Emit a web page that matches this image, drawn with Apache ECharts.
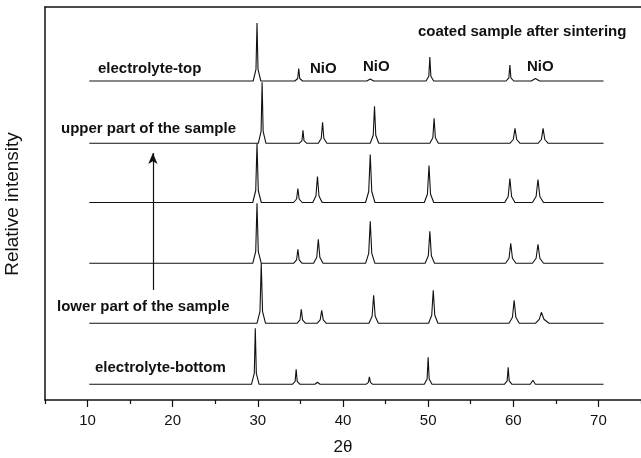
<!DOCTYPE html>
<html>
<head>
<meta charset="utf-8">
<script src="https://cdn.jsdelivr.net/npm/echarts@6/dist/echarts.min.js"></script>
<style>
  html, body { margin: 0; padding: 0; background: #fff; }
  #chart { width: 641px; height: 458px; }
</style>
</head>
<body>
<div id="chart"></div>
<script>
// 2θ tick labels
const majorTicks = [10, 20, 30, 40, 50, 60, 70]
const minorTicks = [5, 15, 25, 35, 45, 55, 65, 75]

// XRD patterns, [2θ, intensity (a.u.)]
const electrolyteTop = [
  [10.2, 0], [29.45, 0], [29.78, 11.6], [29.9, 58], [30.02, 11.6], [30.35, 0],
  [34.35, 0], [34.68, 2.5], [34.8, 12.5], [34.92, 2.5], [35.25, 0],
  [42.8, 0], [43.2, 2], [43.6, 0],
  [49.75, 0], [50.08, 4.8], [50.2, 24], [50.32, 4.8], [50.65, 0],
  [59.15, 0], [59.48, 3.2], [59.6, 16], [59.72, 3.2], [60.05, 0],
  [62.1, 0], [62.6, 2.5], [63.1, 0], [70.6, 0]
]
const upperPart = [
  [10.2, 0], [30.05, 0], [30.38, 12], [30.5, 61], [30.62, 12], [30.95, 0],
  [34.85, 0], [35.18, 2.6], [35.3, 13], [35.42, 2.6], [35.75, 0],
  [37.1, 0], [37.45, 5], [37.6, 21], [37.75, 5], [38.1, 0],
  [43.2, 0], [43.55, 8], [43.7, 37], [43.85, 8], [44.2, 0],
  [50.2, 0], [50.55, 5.5], [50.7, 25], [50.85, 5.5], [51.2, 0],
  [59.6, 0], [60.0, 3.8], [60.2, 15], [60.4, 3.8], [60.8, 0],
  [62.9, 0], [63.3, 3.8], [63.5, 15], [63.7, 3.8], [64.1, 0], [70.6, 0]
]
const middleUpper = [
  [10.2, 0], [29.4, 0], [29.75, 12], [29.9, 59], [30.05, 12], [30.4, 0],
  [34.2, 0], [34.55, 3.5], [34.7, 14], [34.85, 3.5], [35.2, 0],
  [36.45, 0], [36.82, 6.5], [37.0, 26], [37.18, 6.5], [37.55, 0],
  [42.65, 0], [43.02, 11], [43.2, 48], [43.38, 11], [43.75, 0],
  [49.55, 0], [49.92, 8.5], [50.1, 37], [50.28, 8.5], [50.65, 0],
  [59.0, 0], [59.4, 6], [59.6, 24], [59.8, 6], [60.2, 0],
  [62.25, 0], [62.68, 6], [62.9, 23], [63.12, 6], [63.55, 0], [70.6, 0]
]
const middleLower = [
  [10.2, 0], [29.4, 0], [29.75, 12], [29.9, 60], [30.05, 12], [30.4, 0],
  [34.2, 0], [34.55, 3.5], [34.7, 14], [34.85, 3.5], [35.2, 0],
  [36.55, 0], [36.92, 6], [37.1, 24], [37.28, 6], [37.65, 0],
  [42.65, 0], [43.02, 10], [43.2, 42], [43.38, 10], [43.75, 0],
  [49.65, 0], [50.02, 7.5], [50.2, 32], [50.38, 7.5], [50.75, 0],
  [59.1, 0], [59.5, 5], [59.7, 20], [59.9, 5], [60.3, 0],
  [62.25, 0], [62.68, 5], [62.9, 19], [63.12, 5], [63.55, 0], [70.6, 0]
]
const lowerPart = [
  [10.2, 0], [29.9, 0], [30.25, 12], [30.4, 60], [30.55, 12], [30.9, 0],
  [34.6, 0], [34.95, 3.5], [35.1, 14], [35.25, 3.5], [35.6, 0],
  [36.95, 0], [37.32, 3.5], [37.5, 13], [37.68, 3.5], [38.05, 0],
  [43.05, 0], [43.42, 7], [43.6, 28], [43.78, 7], [44.15, 0],
  [50.05, 0], [50.42, 8], [50.6, 33], [50.78, 8], [51.15, 0],
  [59.5, 0], [59.9, 6], [60.1, 23], [60.3, 6], [60.7, 0],
  [62.6, 0], [63.05, 4], [63.3, 11], [63.6, 4], [64.2, 0],
  [64.8, 0], [65.0, 1], [65.2, 0], [70.6, 0]
]
const electrolyteBottom = [
  [10.2, 0], [29.25, 0], [29.58, 11], [29.7, 56], [29.82, 11], [30.15, 0],
  [34.05, 0], [34.38, 3], [34.5, 15], [34.62, 3], [34.95, 0],
  [36.7, 0], [37.0, 2], [37.3, 0],
  [42.7, 0], [42.98, 2], [43.1, 7.5], [43.22, 2], [43.5, 0],
  [49.55, 0], [49.88, 5.4], [50.0, 27], [50.12, 5.4], [50.45, 0],
  [58.95, 0], [59.28, 3.4], [59.4, 17], [59.52, 3.4], [59.85, 0],
  [62.0, 0], [62.3, 4], [62.6, 0], [70.6, 0]
]

const patterns = [electrolyteTop, upperPart, middleUpper, middleLower, lowerPart, electrolyteBottom]
// vertical stacking of the traces (baseline of each one)
const stackOffsets = [319, 256.7, 197.5, 136.7, 76.7, 15.7]

const chart = echarts.init(document.getElementById('chart'))

const boldFont = 'bold 15px "Liberation Sans", Arial, sans-serif'

const series = patterns.map((p, i) => ({
  type: 'line',
  data: p.map(d => [d[0], d[1] + stackOffsets[i]]),
  showSymbol: false,
  silent: true,
  lineStyle: { color: '#111', width: 1.1 }
}))

// arrow from lower part to upper part
series.push({
  type: 'line',
  data: [],
  silent: true,
  markLine: {
    silent: true,
    symbol: ['none', 'arrow'],
    symbolSize: [7, 11],
    label: { show: false },
    lineStyle: { color: '#111', width: 1.2, type: 'solid' },
    data: [[{ coord: [17.67, 110] }, { coord: [17.67, 247] }]]
  }
})

const labels = [
  { text: 'electrolyte-top', x: 98, y: 69 },
  { text: 'upper part of the sample', x: 61, y: 129 },
  { text: 'lower part of the sample', x: 57, y: 306.5 },
  { text: 'electrolyte-bottom', x: 95, y: 368 },
  { text: 'coated sample after sintering', x: 418, y: 32 },
  { text: 'NiO', x: 310, y: 68.5 },
  { text: 'NiO', x: 363, y: 67 },
  { text: 'NiO', x: 527, y: 67 }
]

chart.setOption({
  backgroundColor: '#fff',
  animation: false,
  grid: { left: 45, right: 0, top: 7, bottom: 58 },
  xAxis: [{
    type: 'value',
    min: 5,
    max: 75,
    axisLine: { lineStyle: { color: '#111', width: 1.5 } },
    axisTick: { customValues: majorTicks, length: 7, lineStyle: { color: '#111', width: 1.2 } },
    axisLabel: {
      customValues: majorTicks,
      margin: 13,
      color: '#111',
      fontSize: 15,
      fontFamily: '"Liberation Sans", Arial, sans-serif'
    },
    splitLine: { show: false }
  }, {
    type: 'value',
    min: 5,
    max: 75,
    position: 'bottom',
    axisLine: { show: false },
    axisTick: { customValues: minorTicks, length: 4, lineStyle: { color: '#111', width: 1.2 } },
    axisLabel: { show: false },
    splitLine: { show: false }
  }, {
    type: 'value',
    min: 5,
    max: 75,
    position: 'top',
    axisLine: { lineStyle: { color: '#111', width: 1.5 } },
    axisTick: { show: false },
    axisLabel: { show: false },
    splitLine: { show: false }
  }],
  yAxis: {
    type: 'value',
    min: 0,
    max: 393,
    axisLine: { show: true, lineStyle: { color: '#111', width: 1.5 } },
    axisTick: { show: false },
    axisLabel: { show: false },
    splitLine: { show: false }
  },
  series: series,
  graphic: labels.map(l => ({
    type: 'text',
    x: l.x,
    y: l.y,
    silent: true,
    style: { text: l.text, font: boldFont, fill: '#111', verticalAlign: 'middle' }
  })).concat([{
    type: 'text',
    x: 13,
    y: 204,
    rotation: Math.PI / 2,
    silent: true,
    style: {
      text: 'Relative intensity',
      font: '19px "Liberation Sans", Arial, sans-serif',
      fill: '#111',
      align: 'center',
      verticalAlign: 'middle'
    }
  }, {
    type: 'text',
    x: 343,
    y: 447,
    silent: true,
    style: {
      text: '2θ',
      font: '17px "Liberation Sans", Arial, sans-serif',
      fill: '#111',
      align: 'center',
      verticalAlign: 'middle'
    }
  }])
})
</script>
</body>
</html>
